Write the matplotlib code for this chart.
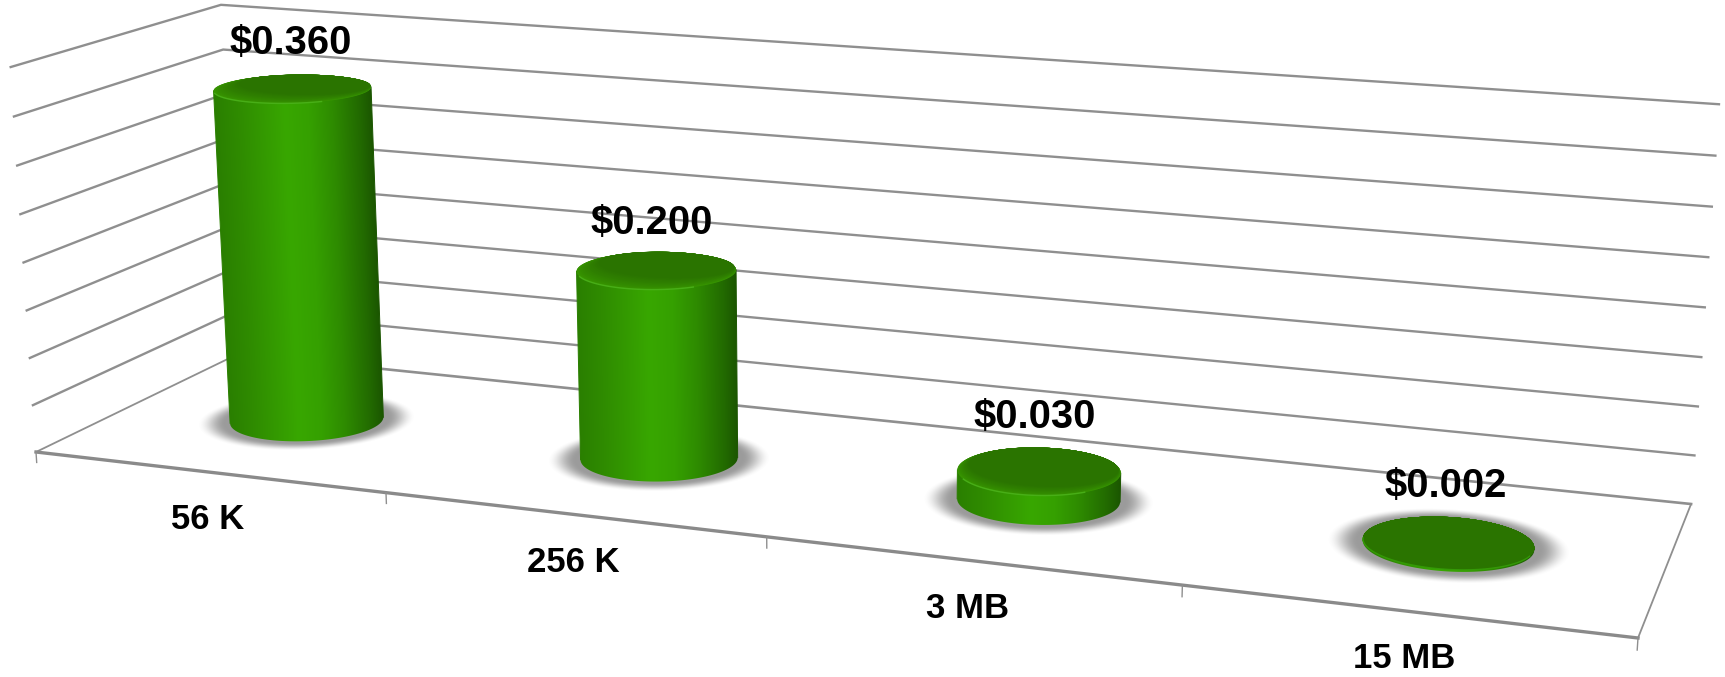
import numpy as np
import matplotlib
matplotlib.use('Agg')
import matplotlib.pyplot as plt
from matplotlib.patches import Polygon
from matplotlib.colors import to_rgb

categories = ['56 K', '256 K', '3 MB', '15 MB']
prices = [0.360, 0.200, 0.030, 0.002]
price_labels = ['$0.360', '$0.200', '$0.030', '$0.002']
axis_max = 0.40
grid_step = 0.05

# small nudges for ticks and text, in floor units / pixels
tick_u = [0, 0.247, 0.496, 0.747, 1]
price_dx = [2, -1, 0, 1]
price_dy = [-2, 1, 0, -1]
cat_dx = [2, -1, -5, 0]

# camera for the fake 3d box: (u along floor, w depth, v height) -> pixels
cam = np.array([[1359.9, 227.7, -25.64, 36.0],
                [91.7, -59.8, -387.0, 452.0],
                [-0.1478, 0.1079, -0.0305, 1.0]])
floor_inv = np.linalg.inv(cam[:, [0, 1, 3]])

ru, rw = 0.0495, 0.195
w_mid = 0.49
bar_scale = 0.99

def project(u, w, v):
    u, w, v = np.asarray(u, float), np.asarray(w, float), np.asarray(v, float)
    pt = [cam[i, 0]*u + cam[i, 1]*w + cam[i, 2]*v + cam[i, 3] for i in range(3)]
    return pt[0]/pt[2], pt[1]/pt[2]

fig = plt.figure(figsize=(17.25, 6.77), dpi=100)
ax = fig.add_axes([0, 0, 1, 1])
ax.axis('off')

grid_col = '#8f8f8f'
# walls
n_lines = int(round(axis_max/grid_step))
for k in range(1, n_lines + 1):
    v = k/n_lines
    x, y = project([0, 0, 1], [0, 1, 1], [v, v, v])
    ax.plot(x, y, color=grid_col, lw=1.7, zorder=1, solid_joinstyle='miter')
x, y = project([0, 1], [1, 1], [0, 0])
ax.plot(x, y, color=grid_col, lw=1.9, zorder=1)
# floor edges
x, y = project([0, 0], [0, 1], [0, 0])
ax.plot(x, y, color=grid_col, lw=1.3, zorder=1)
x, y = project([1, 1], [0, 1], [0, 0])
ax.plot(x, y, color=grid_col, lw=1.3, zorder=1)
x, y = project([0, 1], [0, 0], [0, 0])
ax.plot(x, y, color='#8a8a8a', lw=2.4, zorder=2)
for tu in tick_u:
    x, y = project([tu, tu], [0, 0], [0, -0.028])
    ax.plot(x, y, color=grid_col, lw=1.0, zorder=2)

stops = [0, 0.15, 0.45, 0.6, 0.75, 0.92, 1]
stop_cols = np.array([to_rgb(c) for c in ['#2a7f00', '#2f8b00', '#38a700', '#35a000',
                                          '#2e8b00', '#226a00', '#1b5600']])
cap_dark = np.array(to_rgb('#2a7400'))
cap_light = np.array(to_rgb('#379500'))
t = np.linspace(0, 2*np.pi, 361)[:-1]

def arc(n, i0, i1):
    end = i1 + (n if i1 < i0 else 0)
    return np.arange(i0, end + 1) % n

for i, price in enumerate(prices):
    u0 = (i + 0.5)/len(categories)
    v = price/axis_max*bar_scale
    bx, by = project(u0 + ru*np.cos(t), w_mid + rw*np.sin(t), 0*t)
    tx, ty = project(u0 + ru*np.cos(t), w_mid + rw*np.sin(t), 0*t + v)

    # soft shadow on the floor
    x0, x1 = int(bx.min() - 50), int(bx.max() + 50)
    y0, y1 = int(by.min() - 30), int(by.max() + 30)
    X, Y = np.meshgrid(np.arange(x0, x1) + 0.5, np.arange(y0, y1) + 0.5)
    f = floor_inv[0, 0]*X + floor_inv[0, 1]*Y + floor_inv[0, 2]
    g = floor_inv[1, 0]*X + floor_inv[1, 1]*Y + floor_inv[1, 2]
    q = floor_inv[2, 0]*X + floor_inv[2, 1]*Y + floor_inv[2, 2]
    r = np.hypot((f/q - u0)/ru, (g/q - w_mid)/rw)
    a = np.clip((1.42 - r)/0.36, 0, 1)
    a = a*a*(3 - 2*a)*0.78
    img = np.ones(X.shape + (4,))*0.5
    img[..., 3] = a
    ax.imshow(img, extent=(x0, x1, y1, y0), aspect='auto', zorder=3, interpolation='bilinear')

    # body with shading across it
    il_b, ir_b = bx.argmin(), bx.argmax()
    il_t, ir_t = tx.argmin(), tx.argmax()
    front = arc(len(t), il_b, ir_b)
    back = arc(len(t), ir_t, il_t)
    poly = np.column_stack([np.r_[bx[front], tx[back]], np.r_[by[front], ty[back]]])
    x0, x1 = int(poly[:, 0].min() - 2), int(poly[:, 0].max() + 2)
    y0, y1 = int(poly[:, 1].min() - 2), int(poly[:, 1].max() + 2)
    X, Y = np.meshgrid(np.arange(x0, x1) + 0.5, np.arange(y0, y1) + 0.5)
    frac = np.clip((Y - ty[il_t])/max(by[il_b] - ty[il_t], 1), 0, 1)
    xl = tx[il_t] + frac*(bx[il_b] - tx[il_t])
    xr = tx[ir_t] + frac*(bx[ir_b] - tx[ir_t])
    s = np.clip((X - xl)/(xr - xl), 0, 1)
    img = np.dstack([np.interp(s, stops, stop_cols[:, c]) for c in range(3)])
    im = ax.imshow(img, extent=(x0, x1, y1, y0), aspect='auto', zorder=4, interpolation='bilinear')
    im.set_clip_path(Polygon(poly, closed=True, transform=ax.transData))
    # soften the clipped sides
    ax.plot([tx[il_t], bx[il_b]], [ty[il_t], by[il_b]], color='#2a7f00', lw=0.7, zorder=4)
    ax.plot([tx[ir_t], bx[ir_b]], [ty[ir_t], by[ir_b]], color='#1b5600', lw=0.7, zorder=4)

    # cap, bevel fades out on the very short bars
    bevel = min(1.0, v/0.125)
    for lev in np.linspace(0, 1, 12):
        su = 1 - lev*0.12*bevel
        sw = 1 - lev*0.32*bevel
        cu = u0 + ru*su*np.cos(t)
        cw = w_mid + rw*(1 - sw) + rw*sw*np.sin(t)
        cx, cy = project(cu, cw, 0*t + v)
        col = cap_light + (cap_dark - cap_light)*(lev**0.7 if bevel > 0.5 else 1)
        ax.fill(cx, cy, color=col, lw=0, zorder=5)
    mask = (t > 1.22*np.pi) & (t < 1.78*np.pi) if bevel > 0.5 else (t > 1.05*np.pi) & (t < 1.95*np.pi)
    ax.plot(tx[mask], ty[mask], color='#4cb31c' if bevel > 0.5 else '#36a008', lw=1.0, alpha=0.85, zorder=6)

    ax.text(tx.mean() - 4 + price_dx[i], ty.min() - 19 + price_dy[i], price_labels[i], fontsize=28.7,
            fontweight='bold', family='Liberation Sans', ha='center', va='baseline', color='black', zorder=8)
    fx, fy = project(u0, 0, 0)
    ax.text(fx - 4 + cat_dx[i], fy + 57, categories[i], fontsize=25, fontweight='bold',
            family='Liberation Sans', ha='center', va='baseline', color='black', zorder=8)

ax.set_xlim(0, 1725)
ax.set_ylim(677, 0)
fig.savefig('out.png', dpi=100, facecolor='white')
